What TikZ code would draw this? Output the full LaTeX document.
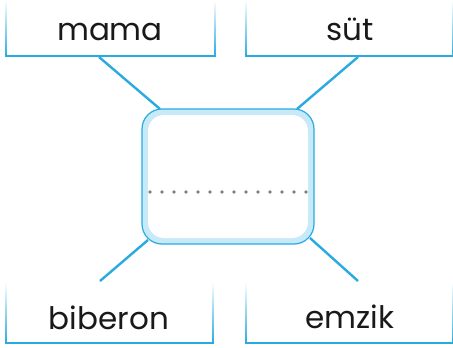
\documentclass[tikz,border=0pt]{standalone}
\usepackage{fontspec}
\setmainfont{Poppins}
\definecolor{lineblue}{RGB}{41,171,226}
\definecolor{bandblue}{RGB}{200,233,248}
\definecolor{dotgray}{RGB}{128,128,128}
\tikzset{
  conn/.style={draw=lineblue, line width=2.4pt},
  word/.style={font=\fontsize{31}{31}\selectfont, text=black!90, inner sep=0pt, anchor=base},
  fadeline/.style={top color=white, bottom color=lineblue},
  baseline/.style={draw=lineblue, line width=1.8pt},
}
\begin{document}
\begin{tikzpicture}[x=1pt,y=-1pt]
\useasboundingbox (0,0) rectangle (453,348);
% label boxes
\foreach \xa/\xb/\ya/\yb in {6/215/0/56, 246/453/0/56, 6/213/282/343, 246/453/282/343}{
  \shade[fadeline] (\xa-0.9,\ya) rectangle (\xa+0.9,\yb);
  \shade[fadeline] (\xb-0.9,\ya) rectangle (\xb+0.9,\yb);
  \draw[baseline] (\xa-0.9,\yb) -- (\xb+0.9,\yb);
}
\node[word] (mama) at (110,41) {mama};
\node[word] (sut) at (350,41) {süt};
\node[word] (biberon) at (109,329) {biberon};
\node[word] (emzik) at (350,328) {emzik};
% central box
\node[draw=lineblue, line width=1.2pt, fill=bandblue, rounded corners=20pt,
      minimum width=172pt, minimum height=135pt, inner sep=0pt] (c) at (228,176.5) {};
\node[fill=white, rounded corners=16pt, minimum width=160pt, minimum height=123pt,
      inner sep=0pt] (ci) at (228,176.5) {};
\foreach \i in {0,...,13}{
  \fill[dotgray] (150+\i*12,192) circle (1.8pt);
}
% connectors
\coordinate (m1) at (99,57);  \coordinate (m2) at (160,109);
\coordinate (s1) at (358,57); \coordinate (s2) at (297,109);
\coordinate (b1) at (100,281); \coordinate (b2) at (148,240);
\coordinate (e1) at (358,281); \coordinate (e2) at (310,238);
\draw[conn] (m1) -- (m2);
\draw[conn] (s1) -- (s2);
\draw[conn] (b1) -- (b2);
\draw[conn] (e1) -- (e2);
\end{tikzpicture}
\end{document}
